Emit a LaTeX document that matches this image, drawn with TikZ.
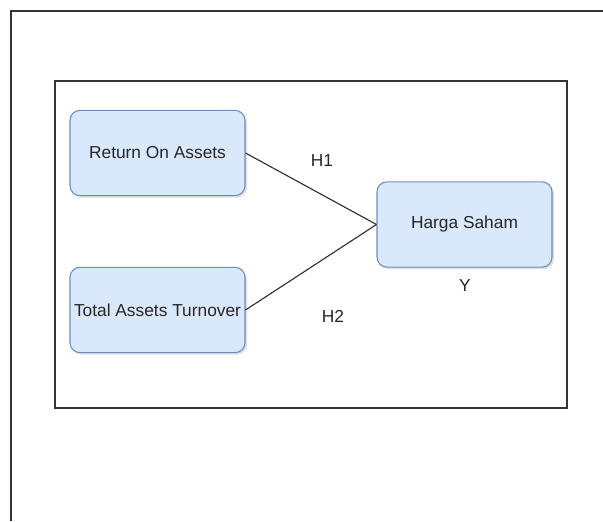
\documentclass[tikz,border=0pt]{standalone}
\usepackage{fontspec}
\setmainfont{Liberation Sans}
\usetikzlibrary{shadows}
\definecolor{boxfill}{HTML}{DAE8FC}
\definecolor{boxline}{HTML}{6C8EBF}
\definecolor{framegray}{HTML}{333333}
\begin{document}
\begin{tikzpicture}[x=0.75pt,y=-0.75pt,
  varbox/.style={draw=boxline, fill=boxfill, rounded corners=7.5pt, line width=0.8pt,
    minimum width=131.25pt, minimum height=64pt, inner sep=0pt,
    font=\fontsize{13}{15}\selectfont, text=black!85,
    drop shadow={opacity=0.25, shadow xshift=1.5pt, shadow yshift=-1.5pt}},
  lbl/.style={font=\fontsize{13}{15}\selectfont, text=black!85, inner sep=0pt},
  link/.style={draw=black!85, line width=0.8pt}]
\useasboundingbox (0,0) rectangle (603,521);
\fill[white] (0,0) rectangle (603,521);
% outer frame
\draw[framegray, line width=1.2pt] (11,521) -- (11,11) -- (603,11);
% inner frame
\draw[black!80, line width=0.8pt] (55,81) rectangle (567,408);
% nodes
\node[varbox] (roa) at (157.5,153) {Return On Assets};
\node[varbox] (tat) at (157.5,310) {Total Assets Turnover};
\node[varbox] (hs) at (464.5,224.5) {Harga Saham};
% links
\draw[link] (roa.east) -- (hs.west);
\draw[link] (tat.east) -- (hs.west);
% labels
\node[lbl] (h1) at (322,161) {H1};
\node[lbl] (h2) at (333,316) {H2};
\node[lbl] (y) at (465,286) {Y};
\end{tikzpicture}
\end{document}
